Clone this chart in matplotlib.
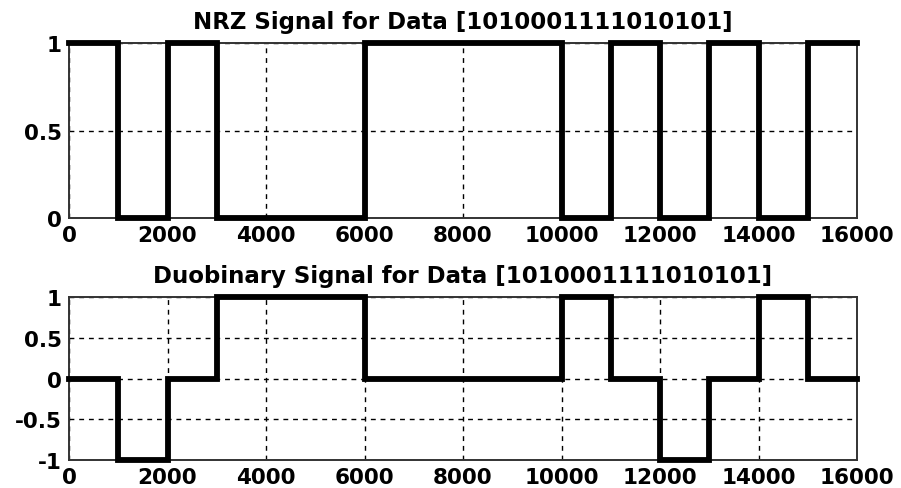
import numpy as np
import matplotlib
matplotlib.use("Agg")
import matplotlib.pyplot as plt

# input bit sequence and the per-bit signal levels
bits = [1, 0, 1, 0, 0, 0, 1, 1, 1, 1, 0, 1, 0, 1, 0, 1]
nrz_levels = [1, 0, 1, 0, 0, 0, 1, 1, 1, 1, 0, 1, 0, 1, 0, 1]
duo_levels = [0, -1, 0, 1, 1, 1, 0, 0, 0, 0, 1, 0, -1, 0, 1, 0]
samples_per_bit = 1000

x_ticks = [0, 2000, 4000, 6000, 8000, 10000, 12000, 14000, 16000]
nrz_yticks = [0, 0.5, 1]
duo_yticks = [-1, -0.5, 0, 0.5, 1]

bit_str = "".join(str(b) for b in bits)
edges = np.arange(len(bits) + 1) * samples_per_bit

plt.rcParams['font.family'] = ['DejaVu Sans']
plt.rcParams['font.weight'] = 'bold'

fig = plt.figure(figsize=(9.01, 4.89), dpi=100)
ax1 = fig.add_axes([69 / 901, 1 - 219 / 489, 788 / 901, 175 / 489])
ax2 = fig.add_axes([69 / 901, 1 - 461 / 489, 788 / 901, 163 / 489])


def draw(ax, levels, yticks, title):
    y = list(levels) + [levels[-1]]
    ax.step(edges, y, where='post', color='black', lw=4.2, clip_on=False,
            zorder=3, solid_joinstyle='miter')
    ax.set_xlim(0, 16000)
    ax.set_ylim(min(yticks), max(yticks))
    ax.set_xticks(x_ticks)
    ax.set_yticks(yticks)
    ax.set_yticklabels([f"{v:g}" for v in yticks])
    ax.grid(True, color='black', linestyle=(0, (3.5, 3.5)), lw=1.0)
    ax.tick_params(length=0, labelsize=15.5, pad=5)
    for s in ax.spines.values():
        s.set_linewidth(1.4)
        s.set_color('#333333')
    ax.set_title(title, fontsize=16.5, fontweight='bold', pad=11)


draw(ax1, nrz_levels, nrz_yticks, f"NRZ Signal for Data [{bit_str}]")
draw(ax2, duo_levels, duo_yticks, f"Duobinary Signal for Data [{bit_str}]")

fig.savefig("out.png", dpi=100)
